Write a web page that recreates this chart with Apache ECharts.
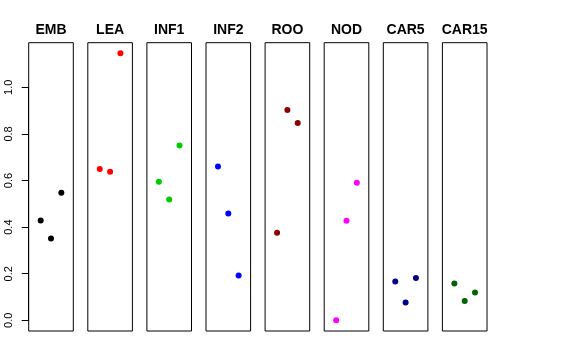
<!DOCTYPE html>
<html>
<head>
<meta charset="utf-8">
<script src="https://cdn.jsdelivr.net/npm/echarts@6/dist/echarts.min.js"></script>
<style>html,body{margin:0;padding:0;background:#fff}#c{width:576px;height:360px}</style>
</head>
<body>
<div id="c"></div>
<script>
const categories = ['EMB','LEA','INF1','INF2','ROO','NOD','CAR5','CAR15'];
const xPositions = [1, 2, 3];
const EMB = [0.428, 0.351, 0.548];
const LEA = [0.650, 0.638, 1.146];
const INF1 = [0.595, 0.519, 0.750];
const INF2 = [0.660, 0.459, 0.192];
const ROO = [0.376, 0.903, 0.847];
const NOD = [0.000, 0.427, 0.591];
const CAR5 = [0.167, 0.077, 0.182];
const CAR15 = [0.158, 0.083, 0.119];
const panelValues = [EMB, LEA, INF1, INF2, ROO, NOD, CAR5, CAR15];
const colors = ['#000000','#FF0000','#00CD00','#0000FF','#8B0000','#FF00FF','#00008B','#006400'];
const yTickLabels = ['0.0','0.2','0.4','0.6','0.8','1.0'];

const boxTop = 42.7, boxHeight = 288.3, boxWidth = 44.6, firstLeft = 28.7, step = 59.1;
const yMin = -0.0458, yMax = 1.1916;
const font = 'Liberation Sans, Arial, Helvetica, sans-serif';

const grid = [], xAxis = [], yAxis = [], series = [], graphic = [];
categories.forEach((name, i) => {
  const left = firstLeft + i * step;
  grid.push({left: left, top: boxTop, width: boxWidth, height: boxHeight, show: true,
    borderColor: '#000', borderWidth: 1, backgroundColor: 'transparent'});
  xAxis.push({type: 'value', gridIndex: i, min: -0.16, max: 4.16, show: false});
  yAxis.push({type: 'value', gridIndex: i, min: yMin, max: yMax, show: false});
  series.push({type: 'scatter', xAxisIndex: i, yAxisIndex: i, symbolSize: 6,
    itemStyle: {color: colors[i], opacity: 1},
    data: xPositions.map((x, j) => [x, panelValues[i][j]])});
  graphic.push({type: 'text', x: left + boxWidth / 2, y: 30.5,
    style: {text: name, textAlign: 'center', textVerticalAlign: 'middle',
      font: 'bold 14px ' + font, fill: '#000'}});
});
// y axis labels: separate grid spanning 0..1
const pxPerUnit = boxHeight / (yMax - yMin);
const axTop = boxTop + (yMax - 1) * pxPerUnit;
grid.push({left: firstLeft, top: axTop, width: 1, height: pxPerUnit, show: false});
xAxis.push({type: 'value', gridIndex: 8, show: false, min: 0, max: 1});
yAxis.push({type: 'value', gridIndex: 8, min: 0, max: 1, interval: 0.2,
  axisLine: {show: true, lineStyle: {color: '#000', width: 1}},
  axisTick: {show: true, length: 7, inside: false, lineStyle: {color: '#000'}},
  splitLine: {show: false},
  axisLabel: {show: true, rotate: 90, margin: 14, color: '#000', fontSize: 11, fontFamily: font,
    formatter: v => yTickLabels[Math.round(v / 0.2)]}});

const chart = echarts.init(document.getElementById('c'), null, {renderer: 'canvas'});
chart.setOption({animation: false, backgroundColor: '#fff', grid, xAxis, yAxis, series, graphic});
</script>
</body>
</html>
